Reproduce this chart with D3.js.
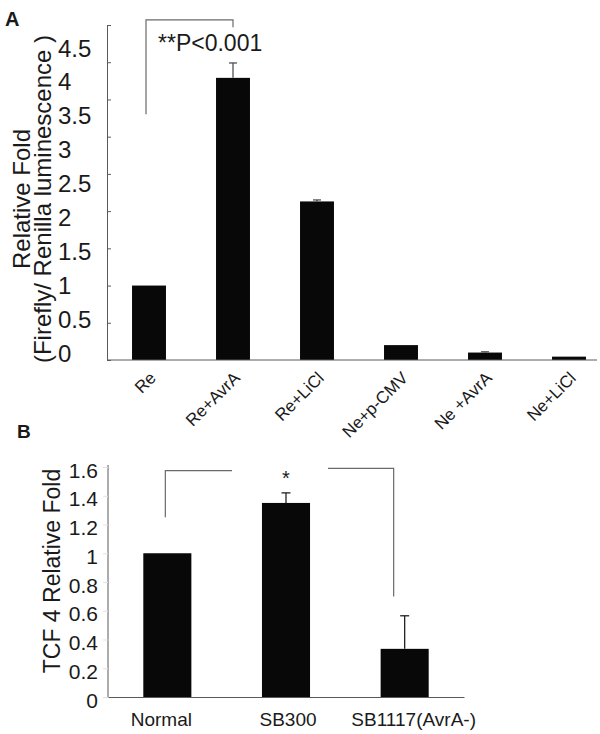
<!DOCTYPE html>
<html><head><meta charset="utf-8">
<script src="https://cdn.jsdelivr.net/npm/d3@7/dist/d3.min.js"></script>
<style>
html,body{margin:0;padding:0;background:#fff;}
svg{display:block;font-family:"Liberation Sans",Arial,Helvetica,sans-serif;}
</style></head>
<body>
<svg id="chart" width="600" height="734"></svg>
<script>
// ---------- Panel A data ----------
const catsA = ["Re", "Re+AvrA", "Re+LiCl", "Ne+p-CMV", "Ne +AvrA", "Ne+LiCl"];
const valsA = [1.0, 3.79, 2.13, 0.2, 0.1, 0.045];
const errA  = [0, 0.2, 0.02, 0, 0.01, 0];
const ticksA = [0, 0.5, 1, 1.5, 2, 2.5, 3, 3.5, 4, 4.5];
const sigA = "**P<0.001";

// ---------- Panel B data ----------
const catsB = ["Normal", "SB300", "SB1117(AvrA-)"];
const valsB = [1.0, 1.35, 0.335];
const errB  = [0, 0.07, 0.23];
const ticksB = [0, 0.2, 0.4, 0.6, 0.8, 1, 1.2, 1.4, 1.6];
const sigB = "*";

const svg = d3.select("#chart");
const barColor = "#080808";
const axisColor = "#5a5a5a";
const bracketColor = "#6a6a6a";

// ================= Panel A =================
const gA = svg.append("g");
const xA = d3.scaleBand().domain(catsA).range([107, 611]).paddingInner(0.596).paddingOuter(0.298);
const yA = d3.scaleLinear().domain([0, 4.5]).range([360, 25]);
const yLabA = d3.scaleLinear().domain([0, 4.5]).range([353, 48]);

// y axis (ticks inward, no labels)
const axA = gA.append("g").attr("transform", "translate(107,0)")
  .call(d3.axisRight(yA).tickValues(ticksA).tickSize(4).tickSizeOuter(0).tickFormat(""));
axA.select(".domain").attr("stroke", axisColor);
axA.selectAll(".tick line").attr("stroke", axisColor);

// tick labels
gA.append("g").selectAll("text").data(ticksA).join("text")
  .attr("x", 58).attr("y", d => yLabA(d))
  .attr("dominant-baseline", "central")
  .attr("font-size", 24).attr("fill", "#1a1a1a")
  .text(d => String(d));

// bars
gA.append("g").selectAll("rect").data(valsA).join("rect")
  .attr("x", (d, i) => xA(catsA[i]))
  .attr("width", xA.bandwidth())
  .attr("y", d => yA(d))
  .attr("height", d => yA(0) - yA(d))
  .attr("fill", barColor);

// error bars
const ebA = gA.append("g").attr("stroke", "#444").attr("stroke-width", 1.2);
valsA.forEach((v, i) => {
  if (!errA[i]) return;
  const cx = xA(catsA[i]) + xA.bandwidth() / 2;
  ebA.append("line").attr("x1", cx).attr("x2", cx).attr("y1", yA(v)).attr("y2", yA(v + errA[i]));
  ebA.append("line").attr("x1", cx - 4).attr("x2", cx + 4).attr("y1", yA(v + errA[i])).attr("y2", yA(v + errA[i]));
});

// x axis
const xaxA = gA.append("g").attr("transform", "translate(0,360)")
  .call(d3.axisBottom(xA).tickSize(0).tickFormat(""));
xaxA.select(".domain").attr("stroke", axisColor).attr("d", "M107,0H597");

// x labels rotated
gA.append("g").selectAll("text").data(catsA).join("text")
  .attr("transform", d => `translate(${xA(d) + xA.bandwidth() / 2 + 8},379) rotate(-45)`)
  .attr("text-anchor", "end")
  .attr("font-size", 17).attr("fill", "#1a1a1a")
  .text(d => d);

// y title
const tA = gA.append("text").attr("transform", "translate(30,199) rotate(-90)")
  .attr("text-anchor", "middle").attr("font-size", 24).attr("fill", "#1a1a1a");
tA.append("tspan").attr("x", 0).attr("dy", 0).text("Relative Fold");
tA.append("tspan").attr("x", 0).attr("dy", 21).text("(Firefly/ Renilla luminescence )");

// significance bracket
const bxA1 = xA(catsA[0]) + xA.bandwidth() / 2 - 3;
const bxA2 = xA(catsA[1]) + xA.bandwidth() / 2;
gA.append("path")
  .attr("d", `M${bxA1},${yA(3.3)}V${yA(4.57)}H${bxA2}V${yA(4.47)}`)
  .attr("fill", "none").attr("stroke", bracketColor).attr("stroke-width", 1.2);
gA.append("text").attr("x", 158).attr("y", 51).attr("font-size", 23).attr("fill", "#1a1a1a").text(sigA);

// panel letter
svg.append("text").attr("x", 5).attr("y", 26).attr("font-size", 20).attr("font-weight", "bold").attr("fill", "#1a1a1a").text("A");

// ================= Panel B =================
const gB = svg.append("g");
const xB = d3.scaleBand().domain(catsB).range([108, 464]).paddingInner(0.595).paddingOuter(0.2975);
const yB = d3.scaleLinear().domain([0, 1.6]).range([697, 467]);

const ayB = gB.append("g").attr("transform", "translate(108,0)")
  .call(d3.axisLeft(yB).tickValues(ticksB).tickSize(5).tickSizeOuter(0).tickFormat(""));
ayB.select(".domain").attr("stroke", axisColor).attr("d", `M0,465V697`);
ayB.selectAll(".tick line").attr("stroke", "#e2e2e2");

gB.append("g").selectAll("text").data(ticksB).join("text")
  .attr("x", 98).attr("y", d => yB(d) + 3)
  .attr("text-anchor", "end").attr("dominant-baseline", "central")
  .attr("font-size", 21).attr("fill", "#1a1a1a")
  .text(d => String(d));

gB.append("g").selectAll("rect").data(valsB).join("rect")
  .attr("x", (d, i) => xB(catsB[i]))
  .attr("width", xB.bandwidth())
  .attr("y", d => yB(d))
  .attr("height", d => yB(0) - yB(d))
  .attr("fill", barColor);

const ebB = gB.append("g").attr("stroke", "#222").attr("stroke-width", 1.3);
valsB.forEach((v, i) => {
  if (!errB[i]) return;
  const cx = xB(catsB[i]) + xB.bandwidth() / 2;
  ebB.append("line").attr("x1", cx).attr("x2", cx).attr("y1", yB(v)).attr("y2", yB(v + errB[i]));
  ebB.append("line").attr("x1", cx - 4.5).attr("x2", cx + 4.5).attr("y1", yB(v + errB[i])).attr("y2", yB(v + errB[i]));
});

const xaxB = gB.append("g").attr("transform", "translate(0,697)")
  .call(d3.axisBottom(xB).tickSize(0).tickFormat(""));
xaxB.select(".domain").attr("stroke", axisColor);

gB.append("g").selectAll("text").data(catsB).join("text")
  .attr("x", (d, i) => xB(d) + xB.bandwidth() / 2 + [-6, 2, 9][i])
  .attr("y", 726)
  .attr("text-anchor", "middle").attr("font-size", 19).attr("fill", "#1a1a1a")
  .text(d => d);

gB.append("text").attr("transform", "translate(60,571) rotate(-90)")
  .attr("text-anchor", "middle").attr("font-size", 23).attr("fill", "#1a1a1a")
  .text("TCF 4 Relative Fold");

// significance brackets
const cN = xB(catsB[0]) + xB.bandwidth() / 2;
const cS = xB(catsB[1]) + xB.bandwidth() / 2;
const cK = xB(catsB[2]) + xB.bandwidth() / 2;
gB.append("path")
  .attr("d", `M${cN - 2},${yB(1.25)}V${yB(1.575)}H${cS - 54}`)
  .attr("fill", "none").attr("stroke", bracketColor).attr("stroke-width", 1.2);
gB.append("path")
  .attr("d", `M${cS + 42},${yB(1.59)}H${cK - 11}V${yB(0.7)}`)
  .attr("fill", "none").attr("stroke", bracketColor).attr("stroke-width", 1.2);
gB.append("text").attr("x", cS).attr("y", 485).attr("text-anchor", "middle")
  .attr("font-size", 20).attr("fill", "#1a1a1a").text(sigB);

svg.append("text").attr("x", 17).attr("y", 438).attr("font-size", 19).attr("font-weight", "bold").attr("fill", "#1a1a1a").text("B");
</script>
</body></html>
